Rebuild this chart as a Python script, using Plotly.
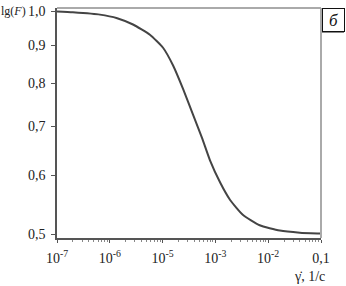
import plotly.graph_objects as go

# shear rate (axis coordinates; decades 1e-7..1e-2 carry the printed labels)
gamma = [1e-7, 2.0e-7, 6.5e-7, 1.38e-6, 2.75e-6, 5.75e-6, 1.02e-5, 1.58e-5,
         2.45e-5, 3.8e-5, 5.6e-5, 7.9e-5, 1.23e-4, 1.9e-4, 3.3e-4, 6.9e-4,
         1.66e-3, 3.98e-3, 9.5e-3, 1e-2]
F = [1.000, 0.997, 0.990, 0.979, 0.960, 0.930, 0.893, 0.845,
     0.785, 0.724, 0.674, 0.629, 0.587, 0.556, 0.531, 0.514,
     0.5055, 0.5022, 0.5008, 0.5007]

x_tickvals = [1e-7, 1e-6, 1e-5, 1e-4, 1e-3, 1e-2]
x_ticktext = ["10<sup>-7</sup>", "10<sup>-6</sup>", "10<sup>-5</sup>",
              "10<sup>-3</sup>", "10<sup>-2</sup>", "0,1"]
y_tickvals = [0.5, 0.6, 0.7, 0.8, 0.9, 1.0]
y_ticktext = ["0,5", "0,6", "0,7", "0,8", "0,9", "1,0"]

minor_x = [k * 10.0 ** e for e in range(-7, -2) for k in range(2, 10)]

FONT = "Liberation Serif"
AX = "#555555"

fig = go.Figure()
fig.add_trace(go.Scatter(x=gamma, y=F, mode="lines",
                         line=dict(color="#444444", width=2, shape="spline", smoothing=0.5),
                         hoverinfo="skip", showlegend=False))

fig.update_layout(
    width=346, height=286,
    margin=dict(l=57, r=25, t=4, b=48),
    paper_bgcolor="white", plot_bgcolor="white",
    font=dict(family=FONT, size=14, color="#222222"),
    showlegend=False,
    xaxis=dict(type="log", range=[-7, -2], showgrid=False, zeroline=False,
               showline=True, linecolor=AX, linewidth=1.5,
               tickmode="array", tickvals=x_tickvals, ticktext=x_ticktext,
               ticks="outside", ticklen=3, tickcolor=AX,
               minor=dict(tickvals=minor_x, ticks="outside", ticklen=2, tickcolor="#888888"),
               ticklabelstandoff=3),
    yaxis=dict(type="log", range=[-0.3063, 0.0046], showgrid=False, zeroline=False,
               showline=True, linecolor=AX, linewidth=1.5,
               tickmode="array", tickvals=y_tickvals, ticktext=y_ticktext,
               ticks="outside", ticklen=4, tickcolor=AX, ticklabelstandoff=3),
)

# top/right light frame
fig.add_shape(type="line", xref="paper", yref="paper", x0=0, x1=1, y0=1, y1=1,
              line=dict(color="#aaaaaa", width=2))
fig.add_shape(type="line", xref="paper", yref="paper", x0=1, x1=1, y0=0, y1=1,
              line=dict(color="#aaaaaa", width=2))

# panel label box (shadow + framed box)
fig.add_annotation(xref="paper", yref="paper", x=1.047, y=0.949 - 2 / 234, text=" ",
                   xanchor="center", yanchor="middle",
                   showarrow=False, width=22, height=23, bgcolor="#888888",
                   borderwidth=0, borderpad=0)
fig.add_annotation(xref="paper", yref="paper", x=1.047, y=0.949, text="<i>б</i>",
                   xanchor="center", yanchor="middle",
                   showarrow=False, width=21, height=22, bgcolor="white",
                   bordercolor="#111111", borderwidth=1, borderpad=0,
                   font=dict(family=FONT, size=17, color="#111111"))

fig.add_annotation(xref="paper", yref="paper", x=-57 / 264, y=1.0 - 3 / 234, xanchor="left",
                   yanchor="middle", text="lg(<i>F</i>)", showarrow=False, borderpad=0,
                   font=dict(family=FONT, size=12, color="#222222"))
fig.add_annotation(xref="paper", yref="paper", x=0.958, y=-0.167, text="γ̇, 1/с",
                   xanchor="center", yanchor="middle",
                   showarrow=False, font=dict(family=FONT, size=14, color="#222222"))

fig.write_html("out.html", config={"displayModeBar": False},
               post_script="document.body.style.margin='0px';")
